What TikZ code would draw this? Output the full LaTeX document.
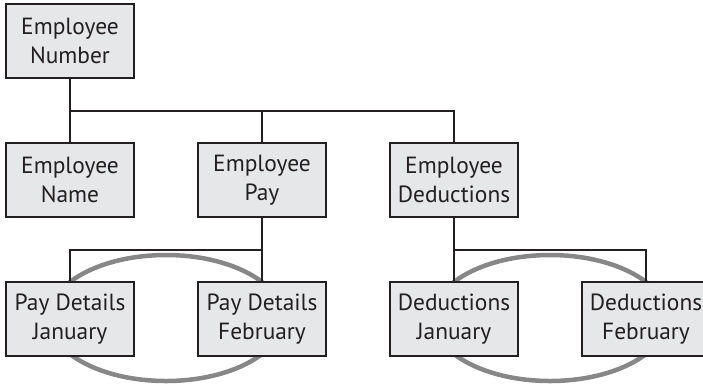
\documentclass[tikz,border=0pt]{standalone}
\usepackage{fontspec}
\setmainfont{PT Sans}
\usetikzlibrary{backgrounds}
\definecolor{boxfill}{RGB}{230,231,232}
\definecolor{ink}{RGB}{35,31,32}
\definecolor{ellgray}{RGB}{135,135,135}
\begin{document}
\begin{tikzpicture}[x=1bp,y=-1bp,
  box/.style={draw=ink, line width=1.3bp, fill=boxfill, minimum width=128bp, minimum height=74bp, inner sep=0pt, align=center, font=\fontsize{23.5}{29}\selectfont, text=ink},
  conn/.style={draw=ink, line width=2bp},
  loopline/.style={draw=ellgray, line width=4.5bp}]
\useasboundingbox (0,0) rectangle (703,384);
\node[box] (num) at (70,41) {Employee\\Number};
\node[box] (name) at (70,180) {Employee\\Name};
\node[box] (pay) at (262,180) {Employee\\Pay};
\node[box] (ded) at (454,180) {Employee\\Deductions};
\node[box] (pj) at (70,319) {Pay Details\\January};
\node[box] (pf) at (262,319) {Pay Details\\February};
\node[box] (dj) at (454,319) {Deductions\\January};
\node[box] (df) at (646,319) {Deductions\\February};
\coordinate (j1) at (70,111);
\coordinate (j2) at (262,250);
\coordinate (j3) at (454,250);
\begin{scope}[on background layer]
\draw[loopline] (166,318) ellipse [x radius=117bp, y radius=63bp];
\draw[loopline] (550,318) ellipse [x radius=117bp, y radius=63bp];
\draw[conn] (num.south) -- (name.north);
\draw[conn] (j1) -| (pay.north);
\draw[conn] (j1) -| (ded.north);
\draw[conn] (pay.south) -- (pf.north);
\draw[conn] (j2) -| (pj.north);
\draw[conn] (ded.south) -- (dj.north);
\draw[conn] (j3) -| (df.north);
\end{scope}
\end{tikzpicture}
\end{document}
